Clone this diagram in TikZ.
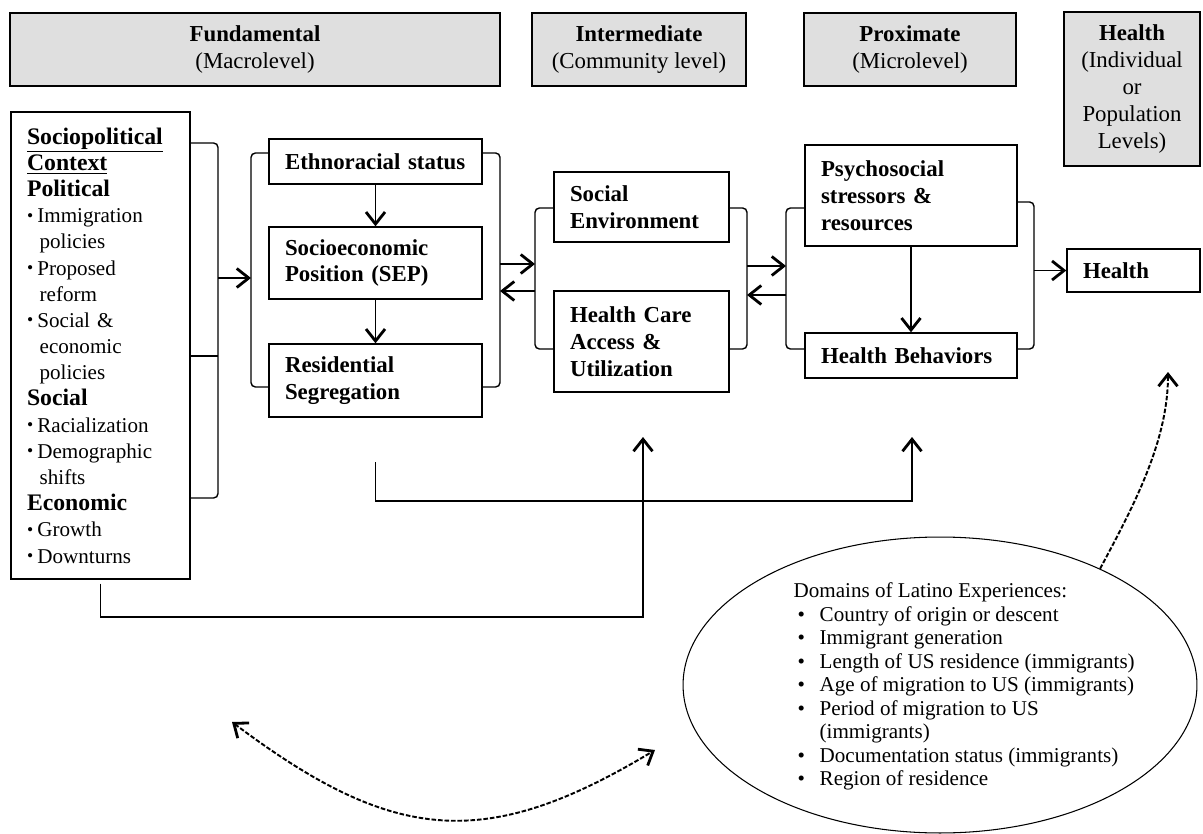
\documentclass[tikz,border=0pt]{standalone}
\usepackage{fontspec}
\setmainfont{Liberation Serif}
\usetikzlibrary{arrows.meta, positioning, shapes.geometric}

\newcommand{\ctxhead}[1]{{\fontsize{13.5}{14.9}\selectfont\bfseries #1}}
\newcommand{\ctxitem}[1]{\raisebox{0.08em}{\fontsize{10}{10}\selectfont\textbullet}\hspace{0.2em}#1}
\newcommand{\ctxcont}[1]{\hspace*{0.6em}#1}
\newcommand{\domitem}[1]{\hspace*{0.08cm}\makebox[0.44cm][l]{\textbullet}#1}

\begin{document}
\begin{tikzpicture}[x=0.02cm, y=-0.02cm, line width=0.8pt,
    >={Straight Barb[length=2.4mm,width=3.8mm,line width=1.6pt]},
    level/.style={draw, line width=1pt, fill=gray!25, align=center, inner sep=0pt, font=\fontsize{13}{15.3}\selectfont},
    factor/.style={draw, align=left, inner xsep=0.32cm, inner ysep=0pt, font=\fontsize{13}{15.3}\selectfont\bfseries},
    bracket/.style={rounded corners=2.5pt},
    link/.style={->},
    dashlink/.style={dash pattern=on 2.6pt off 1.1pt, line width=1.1pt}]
    \useasboundingbox (0,0) rectangle (1203,834);

    \node[level, minimum width=9.8cm, minimum height=1.46cm] (fund) at (255,49.5) {\textbf{Fundamental}\\(Macrolevel)};
    \node[level, minimum width=4.28cm, minimum height=1.46cm] (inter) at (639,49.5) {\textbf{Intermediate}\\(Community level)};
    \node[level, minimum width=4.24cm, minimum height=1.46cm] (prox) at (910,49.5) {\textbf{Proximate}\\(Microlevel)};
    \node[level, minimum width=2.72cm, minimum height=3.08cm] (hlevel) at (1132,89) {\textbf{Health}\\(Individual\\or\\Population\\Levels)};

    \node[factor, font=\fontsize{12}{14.9}\selectfont, text width=2.94cm, minimum height=9.34cm] (ctx) at (100.5,345.5) {\underline{\ctxhead{Sociopolitical}}\\
        \underline{\ctxhead{Context}}\\
        \ctxhead{Political}\\
        \ctxitem{Immigration}\\
        \ctxcont{policies}\\
        \ctxitem{Proposed}\\
        \ctxcont{reform}\\
        \ctxitem{Social \&}\\
        \ctxcont{economic}\\
        \ctxcont{policies}\\
        \ctxhead{Social}\\
        \ctxitem{Racialization}\\
        \ctxitem{Demographic}\\
        \ctxcont{shifts}\\
        \ctxhead{Economic}\\
        \ctxitem{Growth}\\
        \ctxitem{Downturns}};

    \node[factor, text width=3.62cm, minimum height=0.9cm] (ethno) at (375.5,161.5) {Ethnoracial status};
    \node[factor, text width=3.62cm, minimum height=1.44cm] (sep) at (375.5,263) {Socioeconomic\\Position (SEP)};
    \node[factor, text width=3.62cm, minimum height=1.46cm] (res) at (375.5,380.5) {Residential\\Segregation};
    \node[factor, text width=2.86cm, minimum height=1.4cm] (socenv) at (641.5,207) {Social\\Environment};
    \node[factor, text width=2.86cm, minimum height=2.02cm] (hca) at (641.5,341.5) {Health Care\\Access \&\\Utilization};
    \node[factor, text width=3.6cm, minimum height=2.02cm] (psy) at (911,195.5) {Psychosocial\\stressors \&\\resources};
    \node[factor, text width=3.6cm, minimum height=0.9cm] (hb) at (911,355.5) {Health Behaviors};
    \node[factor, text width=2.02cm, minimum height=0.86cm] (health) at (1133.5,270.5) {Health};

    \node[draw, ellipse, line width=0.6pt, minimum width=10.28cm, minimum height=5.92cm, inner sep=0pt] (latino) at (940,685) {};
    \node[anchor=north west, align=left, inner sep=0pt, font=\fontsize{12}{13.4}\selectfont] (domains) at (793,582) {Domains of Latino Experiences:\\
        \domitem{Country of origin or descent}\\
        \domitem{Immigrant generation}\\
        \domitem{Length of US residence (immigrants)}\\
        \domitem{Age of migration to US (immigrants)}\\
        \domitem{Period of migration to US}\\
        \hspace*{0.52cm}(immigrants)\\
        \domitem{Documentation status (immigrants)}\\
        \domitem{Region of residence}};

    \coordinate (ldash) at (232,722);
    \coordinate (rdash) at (655,750);
    \coordinate (hdash) at (1168,372);
    \coordinate (hcaup) at (643,437);
    \coordinate (psyup) at (912,437);

    \draw[bracket] (ctx.east |- 0,143) -| (218,300) |- (ctx.east |- 0,498);
    \draw (ctx.east |- 0,356) -- (218,356);
    \draw[link] (218,278) -- (251,278);

    \draw[bracket] (ethno.west |- 0,153) -| (251,270) |- (res.west |- 0,387);
    \draw[bracket] (ethno.east |- 0,153) -| (500,270) |- (res.east |- 0,387);
    \draw[link] (ethno) -- (sep);
    \draw[link] (sep) -- (res);
    \draw[link] (500,264) -- (535,264);
    \draw[link] (535,291) -- (500,291);

    \draw[bracket] (socenv.west |- 0,208) -| (535,280) |- (hca.west |- 0,349);
    \draw[bracket] (socenv.east |- 0,208) -| (747,280) |- (hca.east |- 0,349);
    \draw[link] (747,266) -- (786,266);
    \draw[link] (786,295) -- (747,295);

    \draw[bracket] (psy.west |- 0,208) -| (786,280) |- (hb.west |- 0,349);
    \draw[bracket] (psy.east |- 0,202) -| (1034,280) |- (hb.east |- 0,349);
    \draw[link] (psy) -- (hb);
    \draw[link] (1034,270.5) -- (health.west);

    \draw[link] ([yshift=-0.08cm]ctx.south) |- (643,617) -- (hcaup);
    \draw[link] (res.south |- 0,462) |- (912,501) -- (psyup);

    \draw[dashlink, <->] (ldash) .. controls (392,842) and (484,853) .. (rdash);
    \draw[dashlink, ->] (latino.36) .. controls (1133,507) and (1168,442) .. (hdash);
\end{tikzpicture}
\end{document}
